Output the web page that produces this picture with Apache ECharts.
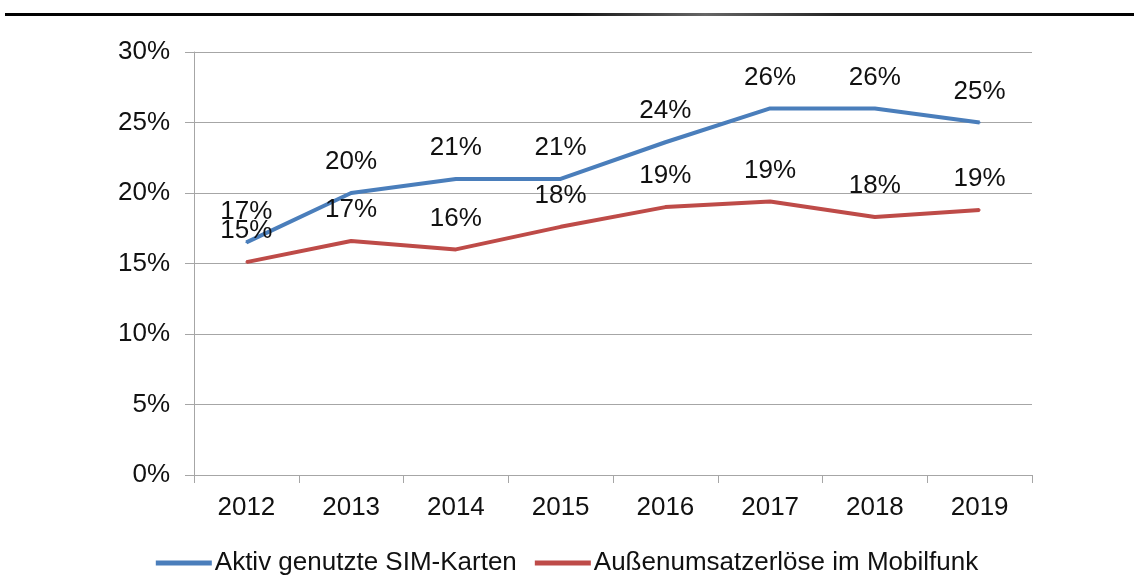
<!DOCTYPE html>
<html>
<head>
<meta charset="utf-8">
<script src="https://cdn.jsdelivr.net/npm/echarts@6/dist/echarts.min.js"></script>
<style>
  html, body { margin: 0; padding: 0; background: #fff; }
  #box { width: 1134px; height: 575px; }
</style>
</head>
<body>
<div id="box"></div>
<script>
// Daten (in %)
let years = ["2012", "2013", "2014", "2015", "2016", "2017", "2018", "2019"];
let simKarten = [16.5, 20.0, 21.0, 21.0, 23.6, 26.0, 26.0, 25.0];
let umsatz = [15.1, 16.6, 16.0, 17.6, 19.0, 19.4, 18.3, 18.8];
let seriesNames = ["Aktiv genutzte SIM-Karten", "Außenumsatzerlöse im Mobilfunk"];

let font = "'Liberation Sans', Arial, sans-serif";
let gridColor = "#a6a6a6";

function lineSeries(name, data, color) {
  return {
    type: "line",
    name: name,
    data: data,
    symbol: "circle",
    symbolSize: 2,
    showSymbol: true,
    itemStyle: { color: color },
    lineStyle: { color: color, width: 4 },
    label: {
      show: true,
      position: "top",
      distance: 17,
      color: "#111",
      fontSize: 26,
      fontFamily: font,
      formatter: p => Math.round(p.value) + "%"
    },
    emphasis: { disabled: true },
    animation: false
  };
}

let chart = echarts.init(document.getElementById("box"), null, { renderer: "canvas" });
chart.setOption({
  backgroundColor: "#fff",
  animation: false,
  textStyle: { fontFamily: font },
  graphic: [{
    type: "rect",
    shape: { x: 5, y: 13, width: 1129, height: 3 },
    style: {
      fill: {
        type: "linear", x: 0, y: 0, x2: 1, y2: 0,
        colorStops: [
          { offset: 0, color: "#000" },
          { offset: 0.5, color: "#111" },
          { offset: 0.62, color: "#666" },
          { offset: 0.74, color: "#222" },
          { offset: 1, color: "#000" }
        ]
      }
    },
    silent: true
  }],
  grid: { left: 194, right: 102, top: 52, bottom: 100 },
  legend: {
    top: 545,
    left: "center",
    itemWidth: 56,
    itemHeight: 5,
    itemGap: 18,
    icon: "rect",
    textStyle: { fontSize: 26, color: "#111", fontFamily: font, padding: [0, 0, 0, -2] },
    data: seriesNames
  },
  xAxis: {
    type: "category",
    data: years,
    boundaryGap: true,
    axisLine: { lineStyle: { color: gridColor, width: 1 } },
    axisTick: { show: true, length: 8, lineStyle: { color: gridColor } },
    axisLabel: { fontSize: 26, color: "#111", margin: 20, fontFamily: font }
  },
  yAxis: {
    type: "value",
    min: 0,
    max: 30,
    interval: 5,
    axisLine: { show: true, lineStyle: { color: gridColor, width: 1 } },
    axisTick: { show: true, length: 9, lineStyle: { color: gridColor } },
    splitLine: { lineStyle: { color: gridColor, width: 1 } },
    axisLabel: { fontSize: 26, color: "#111", margin: 24, formatter: "{value}%", fontFamily: font }
  },
  series: [
    lineSeries(seriesNames[0], simKarten, "#4a7ebb"),
    lineSeries(seriesNames[1], umsatz, "#be4b48")
  ]
});
</script>
</body>
</html>
